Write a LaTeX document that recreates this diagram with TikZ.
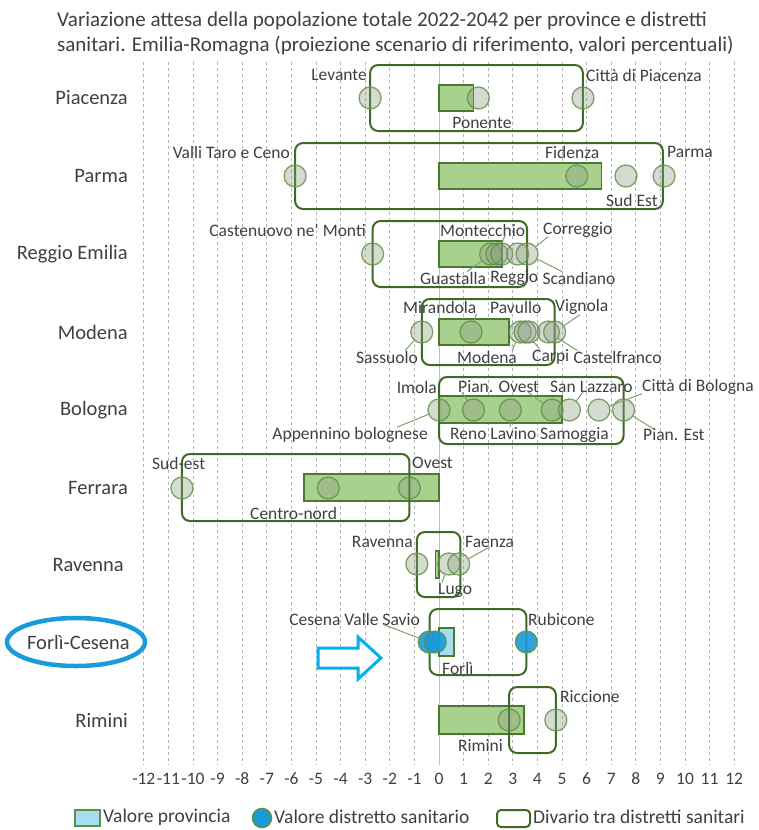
\documentclass[tikz,border=0pt]{standalone}
\usepackage{fontspec}
\setmainfont{Carlito}
\usetikzlibrary{shapes.geometric}
\definecolor{txt}{HTML}{404040}
\definecolor{barfill}{HTML}{A9D18E}
\definecolor{barline}{HTML}{4A7A2F}
\definecolor{boxline}{HTML}{3D6B26}
\definecolor{circfill}{HTML}{8A9A80}
\definecolor{circline}{HTML}{5E8F45}
\definecolor{gridc}{HTML}{B4B4B4}
\definecolor{zeroc}{HTML}{BFBFBF}
\definecolor{blueC}{HTML}{1B9AD8}
\definecolor{bluebar}{HTML}{A6DDF0}
\definecolor{hl}{HTML}{1A9BDC}
\definecolor{arrc}{HTML}{00B0F0}
\definecolor{leadc}{HTML}{7F9F70}
\begin{document}
\begin{tikzpicture}[x=1pt,y=-1pt,
  gridl/.style={draw=gridc, line width=0.8pt, dash pattern=on 3pt off 3pt},
  zerol/.style={draw=zeroc, line width=1pt},
  bar/.style={draw=barline, fill=barfill, line width=1.6pt},
  bluebarst/.style={draw=barline, fill=bluebar, line width=1.6pt},
  rbox/.style={draw=boxline, line width=2pt, rounded corners=8pt},
  dot/.style={circle, minimum size=22pt, inner sep=0pt, draw=circline, line width=1.3pt, draw opacity=0.8, fill=circfill, fill opacity=0.35},
  bdot/.style={dot, fill=blueC, fill opacity=0.9},
  lead/.style={draw=leadc, line width=1pt},
  lbl/.style={inner sep=0pt, text=txt, font=\fontsize{17.5}{20}\selectfont},
  axl/.style={inner sep=0pt, text=txt, font=\fontsize{17.5}{20}\selectfont},
  rowlbl/.style={inner sep=0pt, anchor=east, text=txt, font=\fontsize{20.5}{24}\selectfont},
  titl/.style={inner sep=0pt, anchor=west, text=txt, font=\fontsize{21}{25}\selectfont},
  leg/.style={inner sep=0pt, anchor=west, text=txt, font=\fontsize{19.5}{23}\selectfont}]
\useasboundingbox[fill=white] (0,0) rectangle (758,830);

% title
\node[titl] (t1) at (57,21) {Variazione attesa della popolazione totale 2022-2042 per province e distretti};
\node[titl] (t2) at (57,46) {sanitari. Emilia-Romagna (proiezione scenario di riferimento, valori percentuali)};

% row labels
\node[rowlbl] (rpc) at (128,98) {Piacenza};
\node[rowlbl] (rpr) at (128,176) {Parma};
\node[rowlbl] (rre) at (128,254) {Reggio Emilia};
\node[rowlbl] (rmo) at (128,332) {Modena};
\node[rowlbl] (rbo) at (128,410) {Bologna};
\node[rowlbl] (rfe) at (128,488) {Ferrara};
\node[rowlbl] (rra) at (124,565) {Ravenna};
\node[rowlbl] (rfc) at (130,642) {Forlì-Cesena};
\node[rowlbl] (rri) at (128,720) {Rimini};

\begin{scope}[shift={(439,0)}, x=24.6pt]
  \foreach \i in {-12,...,-1,1,2,...,12} \draw[gridl] (\i,62) -- (\i,765);
  \draw[zerol] (0,62) -- (0,765);
  \foreach \i in {-12,...,12} \node[axl] (ax\i) at (\i,779) {\i};

  % bars
  \draw[bar] (0,85) rectangle (1.4,111);
  \draw[bar] (0,163) rectangle (6.6,189);
  \draw[bar] (0,241) rectangle (2.55,267);
  \draw[bar] (0,319) rectangle (2.85,345);
  \draw[bar] (0,396) rectangle (5.0,423);
  \draw[bar] (0,474) rectangle (-5.5,501);
  \draw[bar] (0,551) rectangle (-0.15,578);
  \draw[bluebarst] (0,628) rectangle (0.6,656);
  \draw[bar] (0,706) rectangle (3.45,734);

  % range boxes
  \draw[rbox] (-2.8,65) rectangle (5.85,131);
  \draw[rbox] (-5.85,143) rectangle (9.1,209);
  \draw[rbox] (-2.7,221) rectangle (3.58,287);
  \draw[rbox] (-0.7,299) rectangle (4.7,365);
  \draw[rbox] (0,377) rectangle (7.5,444);
  \draw[rbox] (-10.45,454) rectangle (-1.2,521);
  \draw[rbox] (-0.9,532) rectangle (0.87,597);
  \draw[rbox] (-0.38,609) rectangle (3.55,675);
  \draw[rbox] (2.85,687) rectangle (4.75,753);

  % district circles
  \node[dot] (c-lev) at (-2.8,98) {};
  \node[dot] (c-pon) at (1.6,98) {};
  \node[dot] (c-cpc) at (5.85,98) {};

  \node[dot] (c-vtc) at (-5.85,176) {};
  \node[dot] (c-fid) at (5.6,176) {};
  \node[dot] (c-sud) at (7.6,176) {};
  \node[dot] (c-par) at (9.15,176) {};

  \node[dot] (c-cast) at (-2.7,254) {};
  \node[dot] (c-guas) at (2.1,254) {};
  \node[dot] (c-mont) at (2.35,254) {};
  \node[dot] (c-regg) at (2.55,254) {};
  \node[dot] (c-scan) at (3.2,254) {};
  \node[dot] (c-corr) at (3.58,254) {};

  \node[dot] (c-sas) at (-0.7,332) {};
  \node[dot] (c-mir) at (1.3,332) {};
  \node[dot] (c-mod) at (3.3,332) {};
  \node[dot] (c-car) at (3.5,332) {};
  \node[dot] (c-pav) at (3.65,332) {};
  \node[dot] (c-cas) at (4.45,332) {};
  \node[dot] (c-vig) at (4.7,332) {};

  \node[dot] (c-app) at (0,410) {};
  \node[dot] (c-imo) at (1.4,410) {};
  \node[dot] (c-ren) at (2.9,410) {};
  \node[dot] (c-pio) at (4.6,410) {};
  \node[dot] (c-sla) at (5.3,410) {};
  \node[dot] (c-cbo) at (6.5,410) {};
  \node[dot] (c-pes) at (7.5,410) {};

  \node[dot] (c-sue) at (-10.45,488) {};
  \node[dot] (c-cen) at (-4.5,488) {};
  \node[dot] (c-ove) at (-1.2,488) {};

  \node[dot] (c-rav) at (-0.9,564) {};
  \node[dot] (c-lug) at (0.4,564) {};
  \node[dot] (c-fae) at (0.8,564) {};

  \node[bdot] (c-ces) at (-0.4,642) {};
  \node[bdot] (c-for) at (-0.15,642) {};
  \node[bdot] (c-rub) at (3.55,642) {};

  \node[dot] (c-rim) at (2.85,720) {};
  \node[dot] (c-ric) at (4.75,720) {};
\end{scope}

% data labels
\node[lbl,anchor=east] (l-lev) at (367,75) {Levante};
\node[lbl,anchor=west] (l-cpc) at (586,75) {Città di Piacenza};
\node[lbl] (l-pon) at (482,123) {Ponente};

\node[lbl,anchor=east] (l-vtc) at (290,152) {Valli Taro e Ceno};
\node[lbl,anchor=west] (l-fid) at (545,152) {Fidenza};
\node[lbl,anchor=west] (l-par) at (667,152) {Parma};
\node[lbl,anchor=west] (l-sud) at (606,200) {Sud Est};

\node[lbl,anchor=east] (l-cast) at (366,230) {Castenuovo ne' Monti};
\node[lbl,anchor=west] (l-mon) at (440,230) {Montecchio};
\node[lbl,anchor=west] (l-cor) at (543,230) {Correggio};
\node[lbl,anchor=west] (l-gua) at (420,278) {Guastalla};
\node[lbl,anchor=west] (l-reg) at ([xshift=4pt]l-gua.east) {Reggio};
\node[lbl,anchor=west] (l-sca) at ([xshift=4pt]l-reg.east) {Scandiano};

\node[lbl,anchor=west] (l-mir) at (403,307) {Mirandola};
\node[lbl,anchor=west] (l-pav) at (490,307) {Pavullo};
\node[lbl,anchor=west] (l-vig) at (555,307) {Vignola};
\node[lbl,anchor=east] (l-sas) at (418,357) {Sassuolo};
\node[lbl,anchor=west] (l-mod) at (457,357) {Modena};
\node[lbl,anchor=west] (l-car) at (532,357) {Carpi};
\node[lbl,anchor=west] (l-cas) at ([xshift=4pt]l-car.east) {Castelfranco};

\node[lbl,anchor=east] (l-imo) at (437,387) {Imola};
\node[lbl,anchor=west] (l-pio) at (458,387) {Pian. Ovest};
\node[lbl,anchor=west] (l-sla) at (550,387) {San Lazzaro};
\node[lbl,anchor=west] (l-cbo) at (642,387) {Città di Bologna};
\node[lbl,anchor=east] (l-app) at (428,435) {Appennino bolognese};
\node[lbl,anchor=west] (l-ren) at (450,435) {Reno Lavino Samoggia};
\node[lbl,anchor=west] (l-pes) at (643,435) {Pian. Est};

\node[lbl,anchor=west] (l-sue) at (152,463) {Sud-est};
\node[lbl,anchor=west] (l-ove) at (412,463) {Ovest};
\node[lbl,anchor=west] (l-cen) at (250,513) {Centro-nord};

\node[lbl,anchor=east] (l-rav) at (413,542) {Ravenna};
\node[lbl,anchor=west] (l-fae) at (465,542) {Faenza};
\node[lbl,anchor=west] (l-lug) at (438,590) {Lugo};

\node[lbl,anchor=east] (l-ces) at (420,619) {Cesena Valle Savio};
\node[lbl,anchor=west] (l-rub) at (528,619) {Rubicone};
\node[lbl,anchor=west] (l-for) at (442,668) {Forlì};

\node[lbl,anchor=west] (l-ric) at (560,697) {Riccione};
\node[lbl,anchor=west] (l-rim) at (458,745) {Rimini};

% leader lines
\draw[lead] ([xshift=-20pt,yshift=1pt]l-mon.south east) -- (c-mont);
\draw[lead] ([xshift=-19pt]l-gua.north east) -- (c-guas);
\draw[lead] ([xshift=5pt,yshift=1pt]l-cor.south west) -- (c-corr);
\draw[lead] ([xshift=20pt]l-sca.north west) -- (c-corr);

\draw[lead] (l-mir.south east) -- (c-mir);
\draw[lead] ([xshift=-13pt]l-sas.north east) -- (c-sas);
\draw[lead] ([xshift=-5pt]l-mod.north east) -- (c-mod);
\draw[lead] ([xshift=8pt]l-car.north west) -- (c-car);
\draw[lead] ([xshift=4pt]l-cas.north west) -- (c-cas);
\draw[lead] ([xshift=25pt]l-vig.south west) -- (c-vig);

\draw[lead] ([xshift=-31pt]l-app.north east) -- (c-app);
\draw[lead] ([xshift=4pt,yshift=1pt]l-pio.south west) -- (c-imo);
\draw[lead] ([xshift=-11pt,yshift=1pt]l-pio.south east) -- (c-pio);
\draw[lead] ([xshift=33pt,yshift=1pt]l-sla.south west) -- (c-sla);
\draw[lead] ([yshift=1pt]l-cbo.south west) -- (c-cbo);
\draw[lead] ([xshift=10pt]l-pes.north west) -- (c-pes);
\draw[lead] ([xshift=60pt]l-ren.north west) -- (c-ren);

\draw[lead] ([xshift=25pt,yshift=1pt]l-fae.south west) -- (c-fae);
\draw[lead] ([xshift=4pt]l-lug.north west) -- (c-lug);
\draw[lead] ([xshift=-37pt,yshift=1pt]l-ces.south east) -- (c-ces);

% highlight ellipse and arrow
\draw[draw=hl, line width=4.5pt] (76,642) ellipse [x radius=69, y radius=24];
\draw[draw=arrc, fill=white, line width=3pt, line join=miter]
  (318,648) -- (358,648) -- (358,637) -- (381,658) -- (358,679) -- (358,668) -- (318,668) -- cycle;

% legend
\draw[draw=circline, fill=bluebar, line width=1.5pt] (75,810) rectangle (100,826);
\node[leg] (lg1) at (103,817) {Valore provincia};
\node[circle, minimum size=19pt, inner sep=0pt, draw=circline, line width=1.5pt, fill=blueC] (lgc) at (262,818) {};
\node[leg] (lg2) at (274,817) {Valore distretto sanitario};
\draw[draw=boxline, line width=2pt, rounded corners=4pt] (497,810) rectangle (530,827);
\node[leg] (lg3) at (533,817) {Divario tra distretti sanitari};
\end{tikzpicture}
\end{document}
